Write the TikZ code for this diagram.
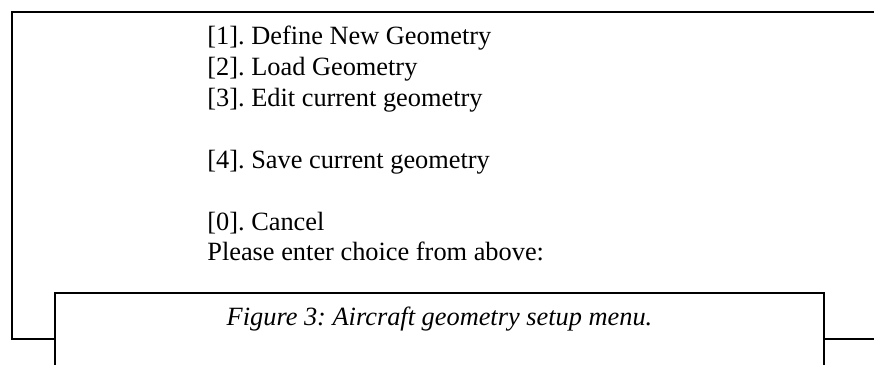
\documentclass[tikz,border=0pt]{standalone}
\usepackage{fontspec}
\setmainfont{Liberation Serif}
\usepackage{tikz}
\usetikzlibrary{positioning}

\tikzset{
    frameline/.style={line width=1.1pt, black},
    captionline/.style={line width=0.8pt, black},
    menutext/.style={inner sep=0pt, align=left, font=\fontsize{15}{17.6}\selectfont\frenchspacing},
}

\begin{document}
\begin{tikzpicture}
        \useasboundingbox (0, 0) rectangle (17.48, 7.30);

        % outer frame
        \draw[frameline] (17.48, 7.06) -- (0.24, 7.06) -- (0.24, 0.52) -- (1.10, 0.52);
        \draw[frameline] (16.48, 0.52) -- (17.48, 0.52);

        % menu (base = last line)
        \node[menutext, anchor=base west] (menu) at (4.14, 2.08) {{[1]}. Define New Geometry\\
        {[2]}. Load Geometry\\
        {[3]}. Edit current geometry\\[17.6pt]
        {[4]}. Save current geometry\\[17.6pt]
        {[0]}. Cancel\\
        Please enter choice from above:};

        % caption frame
        \draw[captionline] (1.10, -0.1) -- (1.10, 1.44) -- (16.48, 1.44) -- (16.48, -0.1);
        \node[menutext, anchor=base, font=\fontsize{15}{17.6}\selectfont\frenchspacing\itshape] (caption) at (8.79, 0.78) {Figure 3: Aircraft geometry setup menu.};
    \end{tikzpicture}
\end{document}
